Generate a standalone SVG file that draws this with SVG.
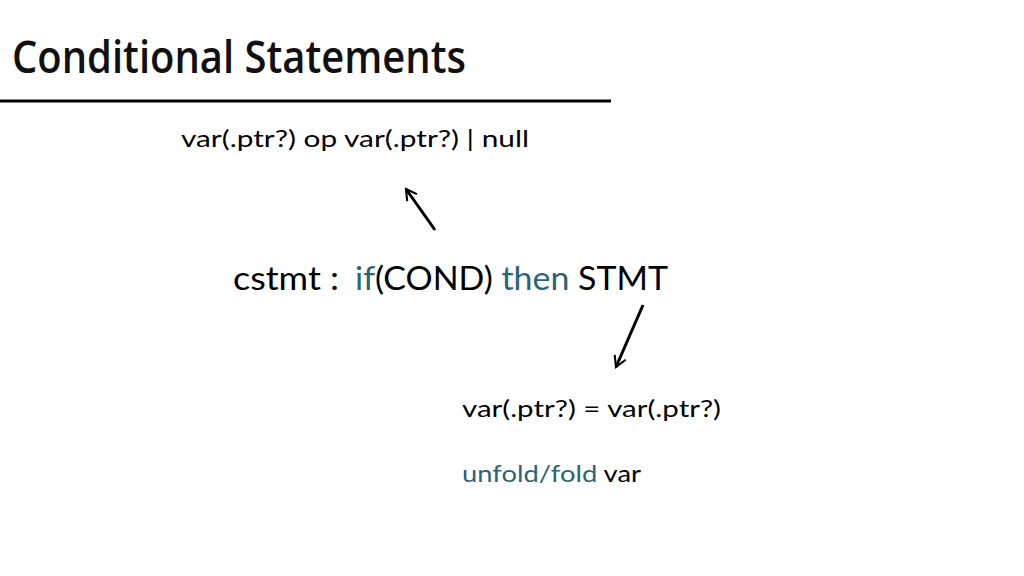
<svg xmlns="http://www.w3.org/2000/svg" width="1024" height="576" viewBox="0 0 1024 576">
<style>
.t{font-family:Lato,"Open Sans","Liberation Sans",sans-serif;fill:#000}
.k{fill:#2b6378}
.title{font-family:"Open Sans","Liberation Sans",sans-serif;font-size:45px;font-weight:600;fill:#111}
.c{stroke:#000;stroke-width:3;fill:none}
</style>
<defs>
<marker id="ah" viewBox="0 0 10 10" refX="8" refY="5" markerWidth="5" markerHeight="5" orient="auto" markerUnits="strokeWidth">
<path d="M1,1 L8,5 L1,9" fill="none" stroke="#000" stroke-width="1.4"/>
</marker>
</defs>
<rect width="1024" height="576" fill="#fff"/>
<g id="title">
<text class="title" x="12" y="73" textLength="454" lengthAdjust="spacingAndGlyphs">Conditional Statements</text>
<line x1="0" y1="101" x2="611" y2="101" stroke="#000" stroke-width="3"/>
</g>
<g id="cond">
<text class="t" x="181" y="147" font-size="24" textLength="348" lengthAdjust="spacingAndGlyphs">var(.ptr?) op var(.ptr?) | null</text>
</g>
<g id="cstmt">
<text class="t" x="233" y="290" font-size="32" textLength="106" lengthAdjust="spacingAndGlyphs">cstmt :</text>
<text class="t" x="355" y="290" font-size="32" textLength="313" lengthAdjust="spacingAndGlyphs"><tspan class="k">if</tspan>(COND) <tspan class="k">then</tspan> STMT</text>
</g>
<g id="stmt">
<text class="t" x="462" y="417" font-size="24" textLength="259" lengthAdjust="spacingAndGlyphs">var(.ptr?) = var(.ptr?)</text>
<text class="t" x="462" y="482" font-size="24" textLength="179" lengthAdjust="spacingAndGlyphs"><tspan class="k">unfold/fold</tspan> var</text>
</g>
<g id="connectors">
<line class="c" x1="435" y1="230" x2="406" y2="189" marker-end="url(#ah)"/>
<line class="c" x1="643" y1="305" x2="616" y2="367" marker-end="url(#ah)"/>
</g>
</svg>
